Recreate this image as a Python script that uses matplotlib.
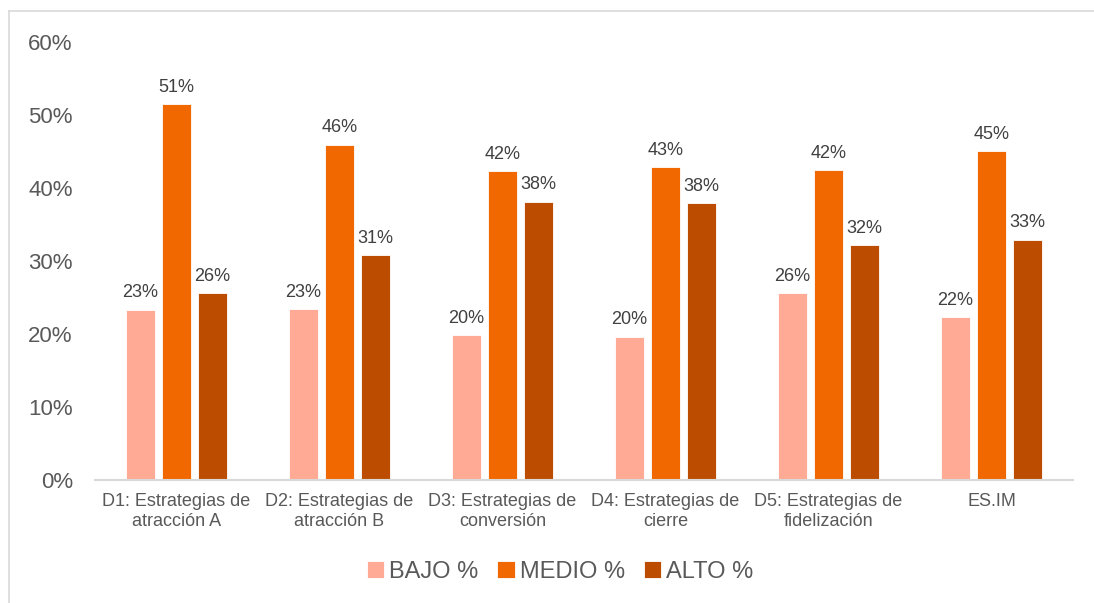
import matplotlib
matplotlib.use("Agg")
import matplotlib.pyplot as plt
from matplotlib.lines import Line2D
import numpy as np

categories = [
    "D1: Estrategias de\natracción A",
    "D2: Estrategias de\natracción B",
    "D3: Estrategias de\nconversión",
    "D4: Estrategias de\ncierre",
    "D5: Estrategias de\nfidelización",
    "ES.IM",
]
series_names = ["BAJO %", "MEDIO %", "ALTO %"]
bajo = [0.233, 0.234, 0.198, 0.196, 0.256, 0.223]
medio = [0.514, 0.459, 0.423, 0.428, 0.424, 0.450]
alto = [0.256, 0.308, 0.381, 0.379, 0.321, 0.329]
yticks = [0, 0.1, 0.2, 0.3, 0.4, 0.5, 0.6]

colors = ["#FFAA94", "#F26800", "#BC4D00"]
label_color = "#404040"
axis_text_color = "#595959"

plt.rcParams["font.family"] = ["Liberation Sans", "DejaVu Sans"]

fig = plt.figure(figsize=(10.94, 6.03), dpi=100)
W, H = 1094, 603
ax = fig.add_axes([95 / W, (H - 480) / H, (1073 - 95) / W, (480 - 41.5) / H])

x = np.arange(len(categories))
step = 0.2206
width = 0.178
for i, (vals, name, col) in enumerate(zip([bajo, medio, alto], series_names, colors)):
    bars = ax.bar(x + (i - 1) * step, vals, width=width, color=col, label=name,
                  edgecolor="white", linewidth=0.6, zorder=2)
    for b, v in zip(bars, vals):
        ax.annotate(f"{v:.0%}", (b.get_x() + b.get_width() / 2, v),
                    xytext=(0, 6), textcoords="offset points",
                    ha="center", va="bottom", fontsize=13, color=label_color)

ax.set_xlim(-0.5, len(categories) - 0.5)
ax.set_ylim(0, 0.6)
ax.set_yticks(yticks)
ax.set_yticklabels([f"{t:.0%}" for t in yticks], fontsize=16, color=axis_text_color)
ax.set_xticks(x)
ax.set_xticklabels(categories, fontsize=13, color=axis_text_color, linespacing=1.3)
ax.tick_params(axis="y", length=0, pad=16)
ax.tick_params(axis="x", length=0, pad=9)

for s in ["top", "right", "left"]:
    ax.spines[s].set_visible(False)
ax.spines["bottom"].set_color("#D9D9D9")
ax.spines["bottom"].set_linewidth(1.5)

leg = fig.legend(loc="center", bbox_to_anchor=(560 / W, (H - 572) / H), ncol=3,
                 frameon=False, fontsize=17, handlelength=0.75, handleheight=0.75,
                 handletextpad=0.2, columnspacing=0.8)
for t in leg.get_texts():
    t.set_color(axis_text_color)

# outer chart frame
fig.add_artist(Line2D([9 / W, 9 / W], [0, 1 - 11 / H], transform=fig.transFigure,
                      color="#D9D9D9", linewidth=1.2))
fig.add_artist(Line2D([9 / W, 1], [1 - 11 / H, 1 - 11 / H], transform=fig.transFigure,
                      color="#D9D9D9", linewidth=1.2))

fig.savefig("out.png", dpi=100, facecolor="white")
